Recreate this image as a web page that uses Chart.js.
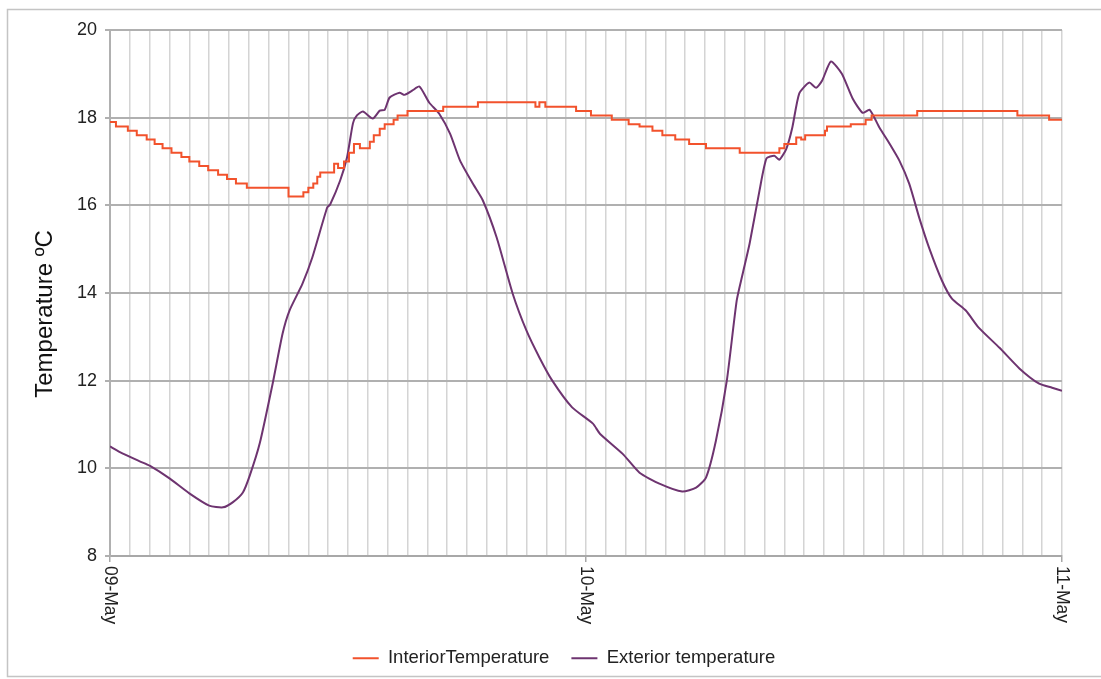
<!DOCTYPE html>
<html>
<head>
<meta charset="utf-8">
<title>Interior vs exterior temperature</title>
<script src="https://cdn.jsdelivr.net/npm/chart.js@4/dist/chart.umd.min.js"></script>
<style>
  html, body { margin: 0; padding: 0; background: #fff; }
  #wrap { position: relative; width: 1101px; height: 679px; }
</style>
</head>
<body>
<div id="wrap"><canvas id="tempChart" width="1101" height="679"></canvas></div>
<script>
// hours since 09-May 00:00
const dayLabels = ["09-May", "10-May", "11-May"];
const dayHours = [0, 24, 48];
const yTicks = [8, 10, 12, 14, 16, 18, 20];
const yTitle = "Temperature ºC";

// interior sensor: level held from this hour on
const intHours = [0, 0.3, 0.9, 1.35, 1.85, 2.25, 2.65, 3.1, 3.6, 4.0, 4.5, 4.95, 5.45, 5.9, 6.35, 6.9,
  9.0, 9.75, 10.0, 10.25, 10.45, 10.6, 11.3, 11.5, 11.8, 12.05, 12.3, 12.6, 13.1, 13.3, 13.6, 13.85,
  14.3, 14.5, 15.0, 16.8, 18.55, 21.45, 21.65, 21.95, 23.5, 24.25, 25.3, 26.15, 26.7, 27.35, 27.85,
  28.5, 29.2, 30.05, 31.75, 33.75, 34.0, 34.6, 34.85, 35.05, 36.05, 36.15, 37.35, 38.1, 38.4, 40.7,
  45.75, 47.35, 48];
const intTemps = [17.9, 17.8, 17.7, 17.6, 17.5, 17.4, 17.3, 17.2, 17.1, 17.0, 16.9, 16.8, 16.7, 16.6, 16.5, 16.4,
  16.2, 16.3, 16.4, 16.5, 16.65, 16.75, 16.95, 16.85, 17.0, 17.2, 17.4, 17.3, 17.45, 17.6, 17.75, 17.85,
  17.95, 18.05, 18.15, 18.25, 18.35, 18.25, 18.35, 18.25, 18.15, 18.05, 17.95, 17.85, 17.8, 17.7, 17.6,
  17.5, 17.4, 17.3, 17.2, 17.3, 17.4, 17.55, 17.5, 17.6, 17.7, 17.8, 17.85, 17.95, 18.05, 18.15,
  18.05, 17.95, 17.95];

// exterior sensor
const extHours = [0, 0.5, 1.5, 2.0, 3.0, 4.0, 5.0, 5.7, 6.2, 6.7, 7.05, 7.55, 8.2, 8.7, 9.05, 9.7,
  10.2, 10.95, 11.1, 11.6, 11.95, 12.25, 12.45, 12.75, 13.25, 13.6, 13.85, 14.1, 14.6, 14.85, 15.25,
  15.6, 16.1, 16.6, 17.15, 17.65, 18.3, 18.8, 19.5, 20.3, 21.0, 21.65, 22.3, 23.3, 24.35, 24.7, 25.85,
  26.7, 27.7, 28.85, 29.55, 30.05, 30.55, 31.1, 31.6, 31.9, 32.25, 32.75, 33.1, 33.5, 33.75, 34.1,
  34.4, 34.75, 35.25, 35.6, 35.9, 36.35, 36.9, 37.45, 37.95, 38.3, 38.8, 39.3, 39.8, 40.3, 40.8,
  41.3, 41.95, 42.45, 43.15, 43.8, 44.85, 45.85, 46.85, 47.5, 48.0];
const extTemps = [10.5, 10.37, 10.16, 10.06, 9.77, 9.43, 9.15, 9.11, 9.23, 9.45, 9.84, 10.57, 11.93, 13.07, 13.6, 14.21,
  14.81, 15.95, 16.02, 16.56, 17.09, 17.87, 18.05, 18.14, 17.98, 18.16, 18.18, 18.46, 18.57, 18.52, 18.62,
  18.71, 18.34, 18.09, 17.63, 17.02, 16.49, 16.11, 15.26, 13.99, 13.14, 12.53, 12.0, 11.39, 11.02, 10.79, 10.33,
  9.9, 9.65, 9.47, 9.56, 9.79, 10.63, 12.0, 13.83, 14.44, 15.13, 16.34, 17.07, 17.13, 17.04, 17.29,
  17.77, 18.55, 18.8, 18.68, 18.84, 19.28, 19.0, 18.43, 18.11, 18.18, 17.77, 17.41, 17.02, 16.49, 15.72,
  15.03, 14.28, 13.87, 13.6, 13.21, 12.75, 12.28, 11.93, 11.84, 11.77];

const toPoints = (xs, ys) => xs.map((h, i) => ({ x: h, y: ys[i] }));

const FONT = "'Liberation Sans', Arial, sans-serif";

// outer frame, y title and the rotated day labels under the x axis
const extrasPlugin = {
  id: "extras",
  beforeDraw(chart) {
    const ctx = chart.ctx;
    ctx.save();
    ctx.strokeStyle = "#c4c4c4";
    ctx.lineWidth = 1.5;
    ctx.beginPath();
    ctx.moveTo(1101, 9.5);
    ctx.lineTo(7.5, 9.5);
    ctx.lineTo(7.5, 676.5);
    ctx.lineTo(1101, 676.5);
    ctx.stroke();
    ctx.restore();
  },
  afterDraw(chart) {
    const ctx = chart.ctx;
    const xs = chart.scales.x;
    const bottom = chart.chartArea.bottom;
    ctx.save();
    ctx.fillStyle = "#222";
    ctx.font = "17.5px " + FONT;
    ctx.textAlign = "left";
    ctx.textBaseline = "middle";
    dayHours.forEach((h, i) => {
      ctx.save();
      ctx.translate(xs.getPixelForValue(h), bottom + 10);
      ctx.rotate(Math.PI / 2);
      ctx.fillText(dayLabels[i], 0, 0);
      ctx.restore();
    });

    // axis title sits a bit below the plot's middle, like the original
    ctx.save();
    ctx.fillStyle = "#111";
    ctx.font = "24px " + FONT;
    ctx.textAlign = "center";
    ctx.translate(45, 314);
    ctx.rotate(-Math.PI / 2);
    ctx.fillText(yTitle, 0, 0);
    ctx.restore();
    ctx.restore();
  }
};

new Chart(document.getElementById("tempChart"), {
  type: "line",
  data: {
    datasets: [
      {
        label: "InteriorTemperature",
        data: toPoints(intHours, intTemps),
        borderColor: "#f2522c",
        backgroundColor: "#f2522c",
        borderWidth: 2,
        stepped: true,
        pointRadius: 0,
        fill: false
      },
      {
        label: "Exterior temperature",
        data: toPoints(extHours, extTemps),
        borderColor: "#6e3470",
        backgroundColor: "#6e3470",
        borderWidth: 2,
        tension: 0.2,
        pointRadius: 0,
        fill: false
      }
    ]
  },
  options: {
    responsive: false,
    animation: false,
    layout: { padding: { left: 66, top: 30, right: 39, bottom: 1.5 } },
    plugins: {
      tooltip: { enabled: false },
      legend: {
        position: "bottom",
        labels: {
          color: "#222",
          font: { family: FONT, size: 18.5 },
          boxWidth: 26,
          boxHeight: 2,
          padding: 22,
          generateLabels: (chart) =>
            Chart.defaults.plugins.legend.labels.generateLabels(chart).map(it => ({ ...it, lineWidth: 0 }))
        }
      }
    },
    scales: {
      x: {
        type: "linear",
        min: 0,
        max: 48,
        ticks: { display: false, stepSize: 1 },
        grid: {
          color: "#d4d4d4",
          lineWidth: 1.5,
          tickLength: 6,
          tickColor: (c) => (c.tick && c.tick.value % 24 === 0 ? "#a8a8a8" : "rgba(0,0,0,0)")
        },
        border: { color: "#a8a8a8", width: 2 },
        afterFit: (s) => { s.height = 71; }
      },
      y: {
        min: 8,
        max: 20,
        afterBuildTicks: (s) => { s.ticks = yTicks.map(v => ({ value: v })); },
        ticks: {
          color: "#222",
          font: { family: FONT, size: 18 },
          padding: 8
        },
        grid: { color: "#b0b0b0", lineWidth: 2, tickLength: 5 },
        border: { color: "#b0b0b0", width: 2 },
        title: { display: false },
        afterFit: (s) => { s.width = 44; }
      }
    }
  },
  plugins: [extrasPlugin]
});
</script>
</body>
</html>
